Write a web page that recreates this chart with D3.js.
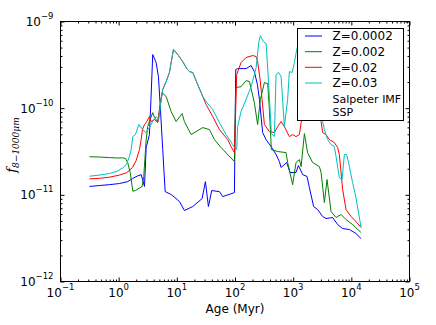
<!DOCTYPE html>
<html>
<head>
<meta charset="utf-8">
<script src="https://cdnjs.cloudflare.com/ajax/libs/d3/7.8.5/d3.min.js"></script>
<style>
body { margin: 0; background: #fff; }
text { font-family: "DejaVu Sans", sans-serif; fill: #000; }
</style>
</head>
<body>
<div id="chart"></div>
<script>
// ages in Myr, f_8-1000um per metallicity
var ageZ0002 = [0.315,0.468,0.695,1.03,1.43,1.73,2.10,2.44,2.78,2.97,3.38,3.59,3.85,4.41,4.83,5.23,5.72,6.30,7.98,11.1,13.5,18.8,27.2,31.0,34.9,39.8,54.0,61.5,97.7,103,111,155,189,215,243,263,299,342,417,508,579,620,773,885,1120,1230,1460,1730,1900,2250,2640,3210,3670,4770,5820,7090,9250,12000,14700];
var fluxZ0002 = [1.25e-11,1.28e-11,1.31e-11,1.35e-11,1.42e-11,1.54e-11,1.65e-11,1.71e-11,1.25e-11,3.51e-11,4.96e-11,1.26e-10,4.15e-10,3.36e-10,2.31e-10,9.62e-11,3.33e-11,1.09e-11,1.01e-11,8.37e-12,6.59e-12,7.33e-12,9.06e-12,1.42e-11,7.33e-12,1.12e-11,1.09e-11,9.55e-12,1.06e-11,2.79e-10,2.86e-10,2.86e-10,3.10e-10,2.64e-10,1.87e-10,1.26e-10,5.23e-11,4.34e-11,3.61e-11,2.92e-11,2.42e-11,2.07e-11,2.36e-11,1.81e-11,1.81e-11,2.18e-11,1.71e-11,1.63e-11,1.21e-11,7.33e-12,6.76e-12,5.62e-12,5.33e-12,5.47e-12,4.54e-12,4.08e-12,3.98e-12,3.58e-12,3.13e-12];

var ageZ002 = [0.315,0.468,0.695,0.954,1.18,1.31,1.43,1.58,1.75,1.94,2.53,2.70,2.97,3.16,3.38,3.85,4.12,4.70,5.02,5.59,6.55,7.98,9.73,12.3,13.5,17.6,27.9,36.3,44.3,57.7,97.7,103,127,155,177,215,245,273,320,365,390,422,542,755,804,980,1120,1280,1370,1560,1770,2160,2820,3020,3440,3820,4480,5460,6660,8110,10500,14700];
var fluxZ002 = [2.75e-11,2.73e-11,2.69e-11,2.66e-11,2.67e-11,2.62e-11,2.36e-11,1.81e-11,1.10e-11,1.12e-11,1.25e-11,1.63e-11,4.34e-11,6.14e-11,7.01e-11,8.89e-11,7.79e-11,7.01e-11,9.62e-11,1.51e-10,1.36e-10,9.14e-11,7.01e-11,8.66e-11,7.01e-11,4.96e-11,5.97e-11,5.66e-11,4.34e-11,3.51e-11,2.42e-11,1.73e-10,1.77e-10,2.08e-10,2.03e-10,1.16e-10,6.47e-11,1.26e-10,1.97e-10,1.92e-10,9.62e-11,3.33e-11,3.16e-11,3.07e-11,2.36e-11,1.31e-11,2.36e-11,2.55e-11,2.12e-11,5.09e-11,3.07e-11,2.36e-11,2.12e-11,1.81e-11,8.15e-12,1.50e-11,6.42e-12,5.47e-12,5.93e-12,5.19e-12,4.54e-12,3.67e-12];

var ageZ02 = [0.315,0.468,0.695,1.03,1.35,1.53,1.73,2.00,2.28,2.44,2.56,2.78,2.97,3.38,3.62,4.12,4.70,5.37,5.72,6.55,7.46,8.74,10.4,12.6,14.8,16.5,18.8,22.9,27.9,31.9,41.4,54.0,75.0,85.7,97.7,107,127,155,202,231,245,270,292,320,390,475,542,620,706,860,980,1120,1280,1370,1560,2060,2640,3020,3210,3670,4190,5100,5820,6220,7090,8110,9890,12000,14700];
var fluxZ02 = [1.53e-11,1.55e-11,1.60e-11,1.69e-11,1.79e-11,1.91e-11,2.07e-11,2.49e-11,3.33e-11,4.34e-11,5.66e-11,6.47e-11,6.82e-11,8.00e-11,7.01e-11,7.39e-11,6.82e-11,1.26e-10,1.64e-10,2.03e-10,2.58e-10,4.74e-10,4.15e-10,3.45e-10,2.86e-10,2.64e-10,2.58e-10,1.87e-10,1.36e-10,1.10e-10,8.00e-11,5.66e-11,4.34e-11,3.61e-11,3.07e-11,2.44e-10,3.36e-10,3.84e-10,4.05e-10,3.94e-10,3.45e-10,2.14e-10,1.26e-10,6.47e-11,5.37e-11,5.23e-11,6.14e-11,7.01e-11,6.14e-11,4.70e-11,4.96e-11,4.70e-11,4.96e-11,6.82e-11,1.10e-10,1.26e-10,9.14e-11,7.01e-11,5.23e-11,4.96e-11,4.34e-11,4.01e-11,3.51e-11,2.92e-11,1.15e-11,6.76e-12,5.62e-12,4.92e-12,4.20e-12];

var ageZ03 = [0.315,0.468,0.695,0.954,1.18,1.36,1.53,1.64,1.75,1.94,2.22,2.60,2.89,3.38,3.85,4.41,4.89,5.37,5.72,6.55,7.46,8.74,10.4,12.6,14.8,16.5,18.8,22.9,27.9,31.9,41.4,54.0,70.3,91.3,97.7,107,111,127,155,189,231,256,273,307,342,360,390,422,475,508,564,620,706,804,860,958,1050,1150,1280,1900,2640,3210,3440,3920,4480,5100,5460,6220,6920,7590,8300,9250,10500,12000,14700];
var fluxZ03 = [1.64e-11,1.69e-11,1.76e-11,1.88e-11,2.05e-11,2.24e-11,2.77e-11,3.33e-11,4.70e-11,4.96e-11,6.47e-11,5.66e-11,5.23e-11,5.97e-11,7.01e-11,8.00e-11,7.39e-11,1.26e-10,1.64e-10,2.03e-10,2.58e-10,4.74e-10,4.15e-10,3.45e-10,2.86e-10,2.64e-10,2.58e-10,1.87e-10,1.36e-10,1.19e-10,9.62e-11,6.82e-11,4.96e-11,3.80e-11,3.51e-11,3.33e-11,6.14e-11,9.14e-11,1.26e-10,1.77e-10,2.94e-10,5.71e-10,6.87e-10,5.86e-10,5.56e-10,3.36e-10,1.36e-10,5.09e-11,4.70e-11,2.44e-10,2.58e-10,2.31e-10,6.14e-11,1.26e-10,2.64e-10,2.58e-10,3.36e-10,4.74e-10,6.18e-10,3.64e-10,1.26e-10,7.01e-11,5.66e-11,4.34e-11,3.80e-11,3.61e-11,2.77e-11,1.58e-11,1.50e-11,2.92e-11,2.92e-11,2.12e-11,1.39e-11,9.31e-12,4.20e-12];

var seriesNames = ["Z=0.0002", "Z=0.002", "Z=0.02", "Z=0.03"];
var seriesColors = ["#0000ff", "#008000", "#ff0000", "#00bfbf"];
var legendNote = ["Salpeter IMF", "SSP"];
var xTickExp = [-1, 0, 1, 2, 3, 4, 5];
var yTickExp = [-12, -11, -10, -9];

var series = [
  {name: seriesNames[0], color: seriesColors[0], pts: d3.zip(ageZ0002, fluxZ0002)},
  {name: seriesNames[1], color: seriesColors[1], pts: d3.zip(ageZ002, fluxZ002)},
  {name: seriesNames[2], color: seriesColors[2], pts: d3.zip(ageZ02, fluxZ02)},
  {name: seriesNames[3], color: seriesColors[3], pts: d3.zip(ageZ03, fluxZ03)}
];

// dimensions
var margin = {top: 21.5, right: 26.5, bottom: 43.5, left: 60.5},
    width = 349,
    height = 260;

var x = d3.scaleLog().domain([0.1, 1e5]).range([0, width]);
var y = d3.scaleLog().domain([1e-12, 1e-9]).range([height, 0]);

var root = d3.select("#chart").append("svg")
    .attr("width", 436)
    .attr("height", 325);

var svg = root.append("g")
    .attr("transform", "translate(" + margin.left + "," + margin.top + ")");

var xMajor = xTickExp.map(function(e) { return Math.pow(10, e); });
var yMajor = yTickExp.map(function(e) { return Math.pow(10, e); });
var xMinor = [], yMinor = [];
xTickExp.slice(0, -1).forEach(function(e) {
  for (var m = 2; m < 10; m++) xMinor.push(m * Math.pow(10, e));
});
yTickExp.slice(0, -1).forEach(function(e) {
  for (var m = 2; m < 10; m++) yMinor.push(m * Math.pow(10, e));
});

// lines
var line = d3.line()
    .x(function(d) { return x(d[0]); })
    .y(function(d) { return y(d[1]); });

svg.selectAll(".series")
  .data(series)
  .enter().append("path")
    .attr("class", "series")
    .attr("d", function(d) { return line(d.pts); })
    .attr("fill", "none")
    .attr("stroke", function(d) { return d.color; })
    .attr("stroke-width", 1);

// ticks on all four sides, pointing in
function ticks(axis, vals, size, tr) {
  svg.append("g")
    .attr("transform", tr)
    .call(axis.tickValues(vals).tickSize(-size).tickSizeOuter(0).tickFormat(""))
    .call(function(g) { g.select(".domain").remove(); });
}
ticks(d3.axisBottom(x), xMajor, 4, "translate(0," + height + ")");
ticks(d3.axisBottom(x), xMinor, 2, "translate(0," + height + ")");
ticks(d3.axisTop(x), xMajor, 4, "translate(0,0)");
ticks(d3.axisTop(x), xMinor, 2, "translate(0,0)");
ticks(d3.axisLeft(y), yMajor, 4, "translate(0,0)");
ticks(d3.axisLeft(y), yMinor, 2, "translate(0,0)");
ticks(d3.axisRight(y), yMajor, 4, "translate(" + width + ",0)");
ticks(d3.axisRight(y), yMinor, 2, "translate(" + width + ",0)");

svg.append("rect")
  .attr("width", width)
  .attr("height", height)
  .attr("fill", "none")
  .attr("stroke", "#000")
  .attr("stroke-width", 1);

function expText(d) { return d < 0 ? "\u2212" + (-d) : "" + d; }

// tick labels 10^n
svg.selectAll(".xlab")
  .data(xTickExp)
  .enter().append("text")
    .attr("class", "xlab")
    .attr("x", function(d) { return x(Math.pow(10, d)); })
    .attr("y", height + 15)
    .attr("text-anchor", "middle")
    .style("font-size", "12px")
    .each(function(d) {
      var t = d3.select(this);
      t.append("tspan").text("10");
      t.append("tspan").attr("dy", -7).style("font-size", "8.5px").text(expText(d));
    });

svg.selectAll(".ylab")
  .data(yTickExp)
  .enter().append("text")
    .attr("class", "ylab")
    .attr("x", -7)
    .attr("y", function(d) { return y(Math.pow(10, d)) + 4.5; })
    .attr("text-anchor", "end")
    .style("font-size", "12px")
    .each(function(d) {
      var t = d3.select(this);
      t.append("tspan").text("10");
      t.append("tspan").attr("dy", -7).style("font-size", "8.5px").text(expText(d));
    });

// axis titles
svg.append("text")
  .attr("x", width / 2)
  .attr("y", height + 31.5)
  .attr("text-anchor", "middle")
  .style("font-size", "12px")
  .text("Age (Myr)");

var yt = root.append("text")
  .attr("transform", "translate(16,145) rotate(-90)")
  .attr("text-anchor", "middle")
  .style("font-family", "'DejaVu Serif', serif")
  .style("font-style", "italic");
yt.append("tspan").style("font-size", "13px").text("f");
yt.append("tspan").attr("dy", 3).style("font-size", "9px").text("8\u22121000\u03bcm");

// legend
var lg = root.append("g");
lg.append("rect")
  .attr("x", 297.5).attr("y", 28.5)
  .attr("width", 106).attr("height", 92)
  .attr("fill", "#fff")
  .attr("stroke", "#000")
  .attr("stroke-width", 1);

var rowY = [36, 51.7, 67.3, 83];
series.forEach(function(s, i) {
  lg.append("line")
    .attr("x1", 305).attr("x2", 322)
    .attr("y1", rowY[i]).attr("y2", rowY[i])
    .attr("stroke", s.color)
    .attr("stroke-width", 1);
  lg.append("text")
    .attr("x", 332.5).attr("y", rowY[i] + 4.4)
    .style("font-size", "12px")
    .text(s.name);
});
lg.selectAll(".note")
  .data(legendNote)
  .enter().append("text")
    .attr("class", "note")
    .attr("x", 332.5)
    .attr("y", function(d, i) { return 103 + i * 12.5; })
    .style("font-size", "11px")
    .text(function(d) { return d; });
</script>
</body>
</html>
